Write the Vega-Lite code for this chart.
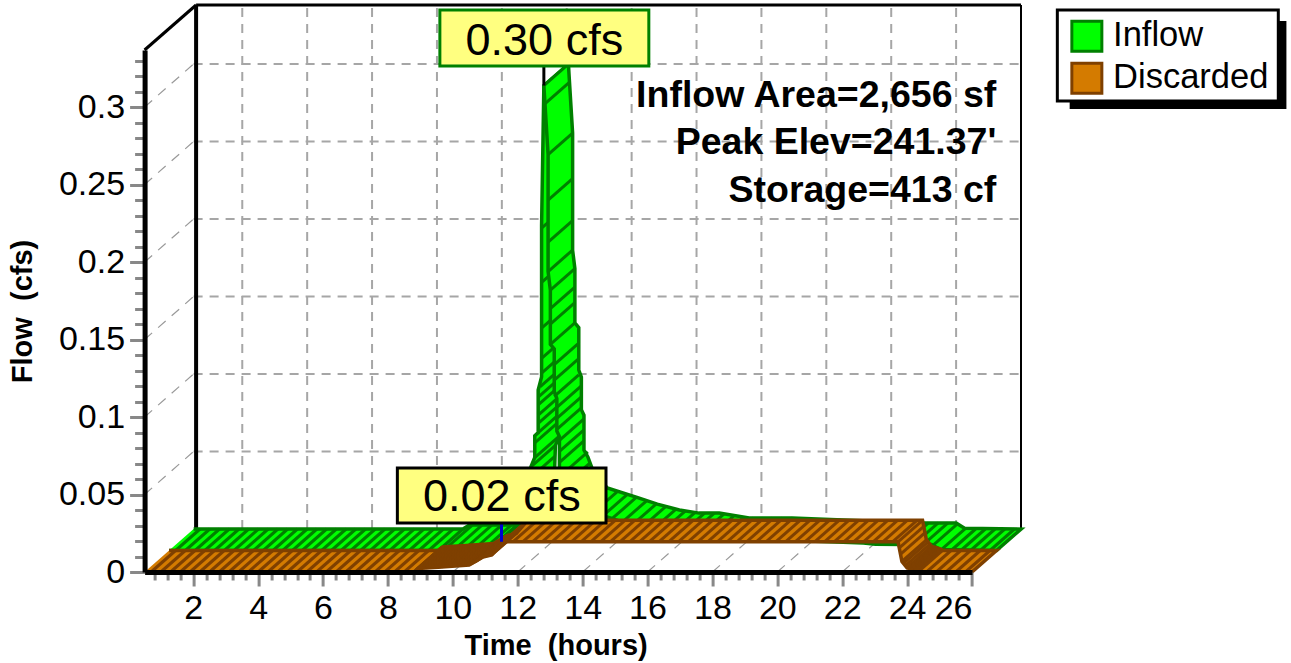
{"$schema":"https://vega.github.io/schema/vega-lite/v6.json","width":827.4,"height":522,"autosize":{"type":"none"},"padding":{"left":144.6,"top":50,"right":319,"bottom":91},"background":"white","config":{"view":{"stroke":null},"font":"Liberation Sans"},
"datasets":{
"timeGrid":[{"time":2},{"time":4},{"time":6},{"time":8},{"time":10},{"time":12},{"time":14},{"time":16},{"time":18},{"time":20},{"time":22},{"time":24},{"time":26}],
"flowGrid":[{"flow":0.05},{"flow":0.1},{"flow":0.15},{"flow":0.2},{"flow":0.25},{"flow":0.3}],
"outline":[
{"piece":"i1","series":"Inflow","seq":1,"time":1.255,"flow":0.0139},{"piece":"i1","series":"Inflow","seq":2,"time":9.555,"flow":0.0139},{"piece":"i1","series":"Inflow","seq":3,"time":9.755,"flow":0.0165},{"piece":"i1","series":"Inflow","seq":4,"time":11.095,"flow":0.0165},{"piece":"i1","series":"Inflow","seq":5,"time":11.455,"flow":0.0199},{"piece":"i1","series":"Inflow","seq":6,"time":11.755,"flow":0.0259},{"piece":"i1","series":"Inflow","seq":7,"time":12.205,"flow":0.0339},
{"piece":"i1","series":"Inflow","seq":8,"time":12.961,"flow":0.0477},{"piece":"i1","series":"Inflow","seq":9,"time":12.511,"flow":0.0397},{"piece":"i1","series":"Inflow","seq":10,"time":12.211,"flow":0.0337},{"piece":"i1","series":"Inflow","seq":11,"time":11.851,"flow":0.0303},{"piece":"i1","series":"Inflow","seq":12,"time":10.511,"flow":0.0303},{"piece":"i1","series":"Inflow","seq":13,"time":10.311,"flow":0.0277},{"piece":"i1","series":"Inflow","seq":14,"time":2.011,"flow":0.0277},
{"piece":"i2","series":"Inflow","seq":1,"time":12.205,"flow":0.0339},{"piece":"i2","series":"Inflow","seq":2,"time":12.375,"flow":0.0489},{"piece":"i2","series":"Inflow","seq":3,"time":12.405,"flow":0.0679},{"piece":"i2","series":"Inflow","seq":4,"time":12.525,"flow":0.0739},{"piece":"i2","series":"Inflow","seq":5,"time":12.525,"flow":0.0879},{"piece":"i2","series":"Inflow","seq":6,"time":12.63,"flow":0.0899},{"piece":"i2","series":"Inflow","seq":7,"time":12.63,"flow":0.1174},{"piece":"i2","series":"Inflow","seq":8,"time":12.735,"flow":0.1259},{"piece":"i2","series":"Inflow","seq":9,"time":12.735,"flow":0.2239},{"piece":"i2","series":"Inflow","seq":10,"time":12.805,"flow":0.3139},
{"piece":"i2","series":"Inflow","seq":11,"time":13.561,"flow":0.3277},{"piece":"i2","series":"Inflow","seq":12,"time":13.491,"flow":0.2377},{"piece":"i2","series":"Inflow","seq":13,"time":13.491,"flow":0.1397},{"piece":"i2","series":"Inflow","seq":14,"time":13.386,"flow":0.1312},{"piece":"i2","series":"Inflow","seq":15,"time":13.386,"flow":0.1037},{"piece":"i2","series":"Inflow","seq":16,"time":13.281,"flow":0.1017},{"piece":"i2","series":"Inflow","seq":17,"time":13.281,"flow":0.0877},{"piece":"i2","series":"Inflow","seq":18,"time":13.161,"flow":0.0817},{"piece":"i2","series":"Inflow","seq":19,"time":13.131,"flow":0.0627},{"piece":"i2","series":"Inflow","seq":20,"time":12.961,"flow":0.0477},
{"piece":"i3","series":"Inflow","seq":1,"time":12.805,"flow":0.3139},{"piece":"i3","series":"Inflow","seq":2,"time":12.935,"flow":0.2694},{"piece":"i3","series":"Inflow","seq":3,"time":12.935,"flow":0.1939},{"piece":"i3","series":"Inflow","seq":4,"time":13.005,"flow":0.1819},{"piece":"i3","series":"Inflow","seq":5,"time":13.005,"flow":0.1469},{"piece":"i3","series":"Inflow","seq":6,"time":13.125,"flow":0.1439},{"piece":"i3","series":"Inflow","seq":7,"time":13.125,"flow":0.1165},{"piece":"i3","series":"Inflow","seq":8,"time":13.205,"flow":0.1119},{"piece":"i3","series":"Inflow","seq":9,"time":13.205,"flow":0.0909},{"piece":"i3","series":"Inflow","seq":10,"time":13.285,"flow":0.0874},{"piece":"i3","series":"Inflow","seq":11,"time":13.285,"flow":0.0649},{"piece":"i3","series":"Inflow","seq":12,"time":13.405,"flow":0.0604},{"piece":"i3","series":"Inflow","seq":13,"time":13.555,"flow":0.0519},{"piece":"i3","series":"Inflow","seq":14,"time":14.005,"flow":0.0404},{"piece":"i3","series":"Inflow","seq":15,"time":14.895,"flow":0.0345},{"piece":"i3","series":"Inflow","seq":16,"time":15.545,"flow":0.03},{"piece":"i3","series":"Inflow","seq":17,"time":16.225,"flow":0.0262},{"piece":"i3","series":"Inflow","seq":18,"time":16.835,"flow":0.0242},{"piece":"i3","series":"Inflow","seq":19,"time":17.455,"flow":0.0242},{"piece":"i3","series":"Inflow","seq":20,"time":18.375,"flow":0.021},{"piece":"i3","series":"Inflow","seq":21,"time":19.705,"flow":0.021},{"piece":"i3","series":"Inflow","seq":22,"time":22.655,"flow":0.0187},{"piece":"i3","series":"Inflow","seq":23,"time":23.025,"flow":0.0179},{"piece":"i3","series":"Inflow","seq":24,"time":23.855,"flow":0.0178},{"piece":"i3","series":"Inflow","seq":25,"time":24.755,"flow":0.0178},{"piece":"i3","series":"Inflow","seq":26,"time":25.015,"flow":0.0145},{"piece":"i3","series":"Inflow","seq":27,"time":26.755,"flow":0.0139},
{"piece":"i3","series":"Inflow","seq":28,"time":27.511,"flow":0.0277},{"piece":"i3","series":"Inflow","seq":29,"time":25.771,"flow":0.0283},{"piece":"i3","series":"Inflow","seq":30,"time":25.511,"flow":0.0316},{"piece":"i3","series":"Inflow","seq":31,"time":24.611,"flow":0.0316},{"piece":"i3","series":"Inflow","seq":32,"time":23.781,"flow":0.0317},{"piece":"i3","series":"Inflow","seq":33,"time":23.411,"flow":0.0325},{"piece":"i3","series":"Inflow","seq":34,"time":20.461,"flow":0.0348},{"piece":"i3","series":"Inflow","seq":35,"time":19.131,"flow":0.0348},{"piece":"i3","series":"Inflow","seq":36,"time":18.211,"flow":0.038},{"piece":"i3","series":"Inflow","seq":37,"time":17.591,"flow":0.038},{"piece":"i3","series":"Inflow","seq":38,"time":16.981,"flow":0.04},{"piece":"i3","series":"Inflow","seq":39,"time":16.301,"flow":0.0438},{"piece":"i3","series":"Inflow","seq":40,"time":15.651,"flow":0.0483},{"piece":"i3","series":"Inflow","seq":41,"time":14.761,"flow":0.0542},{"piece":"i3","series":"Inflow","seq":42,"time":14.311,"flow":0.0657},{"piece":"i3","series":"Inflow","seq":43,"time":14.161,"flow":0.0742},{"piece":"i3","series":"Inflow","seq":44,"time":14.041,"flow":0.0787},{"piece":"i3","series":"Inflow","seq":45,"time":14.041,"flow":0.1012},{"piece":"i3","series":"Inflow","seq":46,"time":13.961,"flow":0.1047},{"piece":"i3","series":"Inflow","seq":47,"time":13.961,"flow":0.1257},{"piece":"i3","series":"Inflow","seq":48,"time":13.881,"flow":0.1303},{"piece":"i3","series":"Inflow","seq":49,"time":13.881,"flow":0.1577},{"piece":"i3","series":"Inflow","seq":50,"time":13.761,"flow":0.1607},{"piece":"i3","series":"Inflow","seq":51,"time":13.761,"flow":0.1957},{"piece":"i3","series":"Inflow","seq":52,"time":13.691,"flow":0.2077},{"piece":"i3","series":"Inflow","seq":53,"time":13.691,"flow":0.2832},{"piece":"i3","series":"Inflow","seq":54,"time":13.561,"flow":0.3277},
{"piece":"d","series":"Discarded","seq":1,"time":0.5,"flow":0},{"piece":"d","series":"Discarded","seq":2,"time":8.8,"flow":0},{"piece":"d","series":"Discarded","seq":3,"time":8.93,"flow":0.0023},{"piece":"d","series":"Discarded","seq":4,"time":9.55,"flow":0.003},{"piece":"d","series":"Discarded","seq":5,"time":10.5,"flow":0.0045},{"piece":"d","series":"Discarded","seq":6,"time":10.93,"flow":0.0097},{"piece":"d","series":"Discarded","seq":7,"time":11.2,"flow":0.011},{"piece":"d","series":"Discarded","seq":8,"time":11.55,"flow":0.0195},{"piece":"d","series":"Discarded","seq":9,"time":23.72,"flow":0.0195},{"piece":"d","series":"Discarded","seq":10,"time":23.84,"flow":0.0068},{"piece":"d","series":"Discarded","seq":11,"time":24.0,"flow":0.0026},{"piece":"d","series":"Discarded","seq":12,"time":24.25,"flow":0.0012},{"piece":"d","series":"Discarded","seq":13,"time":24.35,"flow":0},{"piece":"d","series":"Discarded","seq":14,"time":26,"flow":0},
{"piece":"d","series":"Discarded","seq":15,"time":26.755,"flow":0.0139},{"piece":"d","series":"Discarded","seq":16,"time":25.105,"flow":0.0139},{"piece":"d","series":"Discarded","seq":17,"time":25.005,"flow":0.0151},{"piece":"d","series":"Discarded","seq":18,"time":24.755,"flow":0.0165},{"piece":"d","series":"Discarded","seq":19,"time":24.595,"flow":0.0207},{"piece":"d","series":"Discarded","seq":20,"time":24.475,"flow":0.0334},{"piece":"d","series":"Discarded","seq":21,"time":12.305,"flow":0.0334},{"piece":"d","series":"Discarded","seq":22,"time":11.955,"flow":0.0249},{"piece":"d","series":"Discarded","seq":23,"time":11.685,"flow":0.0236},{"piece":"d","series":"Discarded","seq":24,"time":11.255,"flow":0.0184},{"piece":"d","series":"Discarded","seq":25,"time":10.305,"flow":0.0169},{"piece":"d","series":"Discarded","seq":26,"time":9.685,"flow":0.0162},{"piece":"d","series":"Discarded","seq":27,"time":9.555,"flow":0.0139},{"piece":"d","series":"Discarded","seq":28,"time":1.255,"flow":0.0139}
],
"inflow":[{"time":0.7,"flow":0},{"time":1.0,"flow":0},{"time":1.3,"flow":0},{"time":1.6,"flow":0},{"time":1.9,"flow":0},{"time":2.2,"flow":0},{"time":2.5,"flow":0},{"time":2.8,"flow":0},{"time":3.1,"flow":0},{"time":3.4,"flow":0},{"time":3.7,"flow":0},{"time":4.0,"flow":0},{"time":4.3,"flow":0},{"time":4.6,"flow":0},{"time":4.9,"flow":0},{"time":5.2,"flow":0},{"time":5.5,"flow":0},{"time":5.8,"flow":0},{"time":6.1,"flow":0},{"time":6.4,"flow":0},{"time":6.7,"flow":0},{"time":7.0,"flow":0},{"time":7.3,"flow":0},{"time":7.6,"flow":0},{"time":7.9,"flow":0},{"time":8.2,"flow":0},{"time":8.5,"flow":0},{"time":8.8,"flow":0},{"time":9.1,"flow":0.0026},{"time":9.4,"flow":0.0026},{"time":9.7,"flow":0.0026},{"time":10.0,"flow":0.0026},{"time":10.3,"flow":0.0026},{"time":10.6,"flow":0.005},{"time":10.9,"flow":0.01},{"time":11.2,"flow":0.015},{"time":11.45,"flow":0.02},{"time":11.55,"flow":0.028},{"time":11.62,"flow":0.035},{"time":11.64,"flow":0.047},{"time":11.65,"flow":0.054},{"time":11.77,"flow":0.06},{"time":11.77,"flow":0.0695},{"time":11.875,"flow":0.076},{"time":11.875,"flow":0.082},{"time":11.875,"flow":0.0874},{"time":11.875,"flow":0.094},{"time":11.875,"flow":0.099},{"time":11.93,"flow":0.1055},{"time":11.98,"flow":0.1145},{"time":11.98,"flow":0.124},{"time":11.98,"flow":0.1435},{"time":11.98,"flow":0.173},{"time":11.98,"flow":0.208},{"time":12.05,"flow":0.3},{"time":12.07,"flow":0.288},{"time":12.18,"flow":0.2555},{"time":12.18,"flow":0.226},{"time":12.18,"flow":0.199},{"time":12.18,"flow":0.18},{"time":12.25,"flow":0.168},{"time":12.25,"flow":0.156},{"time":12.25,"flow":0.146},{"time":12.25,"flow":0.133},{"time":12.37,"flow":0.12},{"time":12.37,"flow":0.11},{"time":12.37,"flow":0.0994},{"time":12.45,"flow":0.0923},{"time":12.45,"flow":0.0852},{"time":12.45,"flow":0.0781},{"time":12.53,"flow":0.071},{"time":12.53,"flow":0.0639},{"time":12.53,"flow":0.0568},{"time":12.65,"flow":0.0497},{"time":12.72,"flow":0.0426},{"time":12.8,"flow":0.038},{"time":13.0,"flow":0.032},{"time":13.25,"flow":0.0265},{"time":13.55,"flow":0.024},{"time":13.85,"flow":0.022},{"time":14.15,"flow":0.0205},{"time":14.45,"flow":0.018},{"time":14.75,"flow":0.016},{"time":15.05,"flow":0.0145},{"time":15.35,"flow":0.0125},{"time":15.65,"flow":0.0115},{"time":15.95,"flow":0.0105},{"time":16.25,"flow":0.0103},{"time":16.55,"flow":0.0103},{"time":16.85,"flow":0.0098},{"time":17.15,"flow":0.0084},{"time":17.45,"flow":0.0075},{"time":17.75,"flow":0.0071},{"time":18.05,"flow":0.0071},{"time":18.35,"flow":0.0071},{"time":18.65,"flow":0.0071},{"time":18.95,"flow":0.0071},{"time":19.25,"flow":0.0068},{"time":19.55,"flow":0.0066},{"time":19.85,"flow":0.0064},{"time":20.15,"flow":0.0061},{"time":20.45,"flow":0.006},{"time":20.75,"flow":0.0057},{"time":21.05,"flow":0.0054},{"time":21.35,"flow":0.0051},{"time":21.65,"flow":0.0049},{"time":21.95,"flow":0.0046},{"time":22.25,"flow":0.004},{"time":22.55,"flow":0.004},{"time":22.85,"flow":0.0039},{"time":23.15,"flow":0.0039},{"time":23.45,"flow":0.0039},{"time":23.75,"flow":0.0039},{"time":24.05,"flow":0.0035},{"time":24.3,"flow":0.0006},{"time":24.6,"flow":0},{"time":24.9,"flow":0},{"time":25.2,"flow":0},{"time":25.5,"flow":0},{"time":25.8,"flow":0}],
"discarded":[{"time":0.7,"flow":0},{"time":1.0,"flow":0},{"time":1.3,"flow":0},{"time":1.6,"flow":0},{"time":1.9,"flow":0},{"time":2.2,"flow":0},{"time":2.5,"flow":0},{"time":2.8,"flow":0},{"time":3.1,"flow":0},{"time":3.4,"flow":0},{"time":3.7,"flow":0},{"time":4.0,"flow":0},{"time":4.3,"flow":0},{"time":4.6,"flow":0},{"time":4.9,"flow":0},{"time":5.2,"flow":0},{"time":5.5,"flow":0},{"time":5.8,"flow":0},{"time":6.1,"flow":0},{"time":6.4,"flow":0},{"time":6.7,"flow":0},{"time":7.0,"flow":0},{"time":7.3,"flow":0},{"time":7.6,"flow":0},{"time":7.9,"flow":0},{"time":8.2,"flow":0},{"time":8.5,"flow":0},{"time":8.8,"flow":0},{"time":8.85,"flow":0.001},{"time":8.9,"flow":0.002},{"time":8.95,"flow":0.0023},{"time":9.0,"flow":0.0024},{"time":9.05,"flow":0.0024},{"time":9.1,"flow":0.0025},{"time":9.15,"flow":0.0025},{"time":9.2,"flow":0.0025},{"time":9.25,"flow":0.0026},{"time":9.3,"flow":0.0026},{"time":9.35,"flow":0.0027},{"time":9.4,"flow":0.0028},{"time":9.45,"flow":0.0029},{"time":9.5,"flow":0.003},{"time":9.55,"flow":0.003},{"time":9.6,"flow":0.0031},{"time":9.65,"flow":0.0032},{"time":9.7,"flow":0.0033},{"time":9.75,"flow":0.0034},{"time":9.8,"flow":0.0035},{"time":9.85,"flow":0.0036},{"time":9.9,"flow":0.0036},{"time":9.95,"flow":0.0037},{"time":10.0,"flow":0.0037},{"time":10.05,"flow":0.0038},{"time":10.1,"flow":0.0039},{"time":10.15,"flow":0.004},{"time":10.2,"flow":0.004},{"time":10.25,"flow":0.0041},{"time":10.3,"flow":0.0042},{"time":10.35,"flow":0.0043},{"time":10.4,"flow":0.0044},{"time":10.45,"flow":0.0045},{"time":10.5,"flow":0.0045},{"time":10.55,"flow":0.005},{"time":10.6,"flow":0.0055},{"time":10.65,"flow":0.006},{"time":10.7,"flow":0.0065},{"time":10.75,"flow":0.0073},{"time":10.8,"flow":0.008},{"time":10.85,"flow":0.0087},{"time":10.9,"flow":0.0094},{"time":10.95,"flow":0.0098},{"time":11.0,"flow":0.01},{"time":11.05,"flow":0.0103},{"time":11.1,"flow":0.0105},{"time":11.15,"flow":0.0108},{"time":11.2,"flow":0.011},{"time":11.25,"flow":0.0122},{"time":11.3,"flow":0.0135},{"time":11.35,"flow":0.0147},{"time":11.4,"flow":0.016},{"time":11.45,"flow":0.0172},{"time":11.5,"flow":0.0185},{"time":11.55,"flow":0.0195},{"time":11.85,"flow":0.0195},{"time":12.15,"flow":0.0195},{"time":12.45,"flow":0.0195},{"time":12.75,"flow":0.0195},{"time":13.05,"flow":0.0195},{"time":13.35,"flow":0.0195},{"time":13.65,"flow":0.0195},{"time":13.95,"flow":0.0195},{"time":14.25,"flow":0.0195},{"time":14.55,"flow":0.0195},{"time":14.85,"flow":0.0195},{"time":15.15,"flow":0.0195},{"time":15.45,"flow":0.0195},{"time":15.75,"flow":0.0195},{"time":16.05,"flow":0.0195},{"time":16.35,"flow":0.0195},{"time":16.65,"flow":0.0195},{"time":16.95,"flow":0.0195},{"time":17.25,"flow":0.0195},{"time":17.55,"flow":0.0195},{"time":17.85,"flow":0.0195},{"time":18.15,"flow":0.0195},{"time":18.45,"flow":0.0195},{"time":18.75,"flow":0.0195},{"time":19.05,"flow":0.0195},{"time":19.35,"flow":0.0195},{"time":19.65,"flow":0.0195},{"time":19.95,"flow":0.0195},{"time":20.25,"flow":0.0195},{"time":20.55,"flow":0.0195},{"time":20.85,"flow":0.0195},{"time":21.15,"flow":0.0195},{"time":21.45,"flow":0.0195},{"time":21.75,"flow":0.0195},{"time":22.05,"flow":0.0195},{"time":22.35,"flow":0.0195},{"time":22.65,"flow":0.0195},{"time":22.95,"flow":0.0195},{"time":23.25,"flow":0.0195},{"time":23.55,"flow":0.0195},{"time":23.72,"flow":0.0195},{"time":23.76,"flow":0.0155},{"time":23.8,"flow":0.0115},{"time":23.84,"flow":0.0068},{"time":23.89,"flow":0.0055},{"time":23.94,"flow":0.004},{"time":23.99,"flow":0.0027},{"time":24.04,"flow":0.0024},{"time":24.09,"flow":0.0021},{"time":24.14,"flow":0.0018},{"time":24.19,"flow":0.0015},{"time":24.24,"flow":0.0012},{"time":24.29,"flow":0.0007},{"time":24.34,"flow":0.0001},{"time":24.6,"flow":0},{"time":24.9,"flow":0},{"time":25.2,"flow":0},{"time":25.5,"flow":0},{"time":25.8,"flow":0}],
"callouts":[{"series":"Inflow","label":"0.30 cfs","t1":9.6,"t2":16.04,"q1":0.3626,"q2":0.3265,"tc":12.82,"qc":0.3335},{"series":"Discarded","label":"0.02 cfs","t1":8.29,"t2":14.72,"q1":0.0671,"q2":0.0316,"tc":11.51,"qc":0.0394}],
"notes":[{"note":"Inflow Area=2,656 sf","time":26.75,"flow":0.3},{"note":"Peak Elev=241.37'","time":26.75,"flow":0.2697},{"note":"Storage=413 cf","time":26.75,"flow":0.2387}],
"legendShadow":[{"t1":29.01,"t2":35.69,"q1":0.3555,"q2":0.2987}],
"legendBox":[{"t1":28.63,"t2":35.44,"q1":0.3626,"q2":0.3039}]
},
"resolve":{"axis":{"x":"independent","y":"independent"}},
"layer":[
{"data":{"name":"legendShadow"},"mark":{"type":"rect","fill":"black"},"encoding":{"x":{"field":"t1","type":"quantitative","axis":null,"scale":{"domain":[0.5,26],"nice":false,"zero":false}},"x2":{"field":"t2"},"y":{"field":"q1","type":"quantitative","axis":null,"scale":{"domain":[0,0.3368],"nice":false,"zero":false}},"y2":{"field":"q2"}}},
{"data":{"name":"legendBox"},"mark":{"type":"rect","fill":"white","stroke":"black","strokeWidth":3},"encoding":{"x":{"field":"t1","type":"quantitative","axis":null},"x2":{"field":"t2"},"y":{"field":"q1","type":"quantitative","axis":null},"y2":{"field":"q2"}}},
{"data":{"values":[{"time":2,"flow":0}]},"mark":{"type":"point","opacity":0},"encoding":{"x":{"field":"time","type":"quantitative","axis":{"orient":"bottom","values":[0.8,1.2,1.6,2.4,2.8,3.2,3.6,4.4,4.8,5.2,5.6,6.4,6.8,7.2,7.6,8.4,8.8,9.2,9.6,10.4,10.8,11.2,11.6,12.4,12.8,13.2,13.6,14.4,14.8,15.2,15.6,16.4,16.8,17.2,17.6,18.4,18.8,19.2,19.6,20.4,20.8,21.2,21.6,22.4,22.8,23.2,23.6,24.4,24.8,25.2,25.6],"grid":false,"title":null,"labels":false,"domain":false,"tickColor":"#888888","tickWidth":3,"tickSize":8}},"y":{"field":"flow","type":"quantitative","axis":{"orient":"left","values":[0.01,0.02,0.03,0.04,0.06,0.07,0.08,0.09,0.11,0.12,0.13,0.14,0.16,0.17,0.18,0.19,0.21,0.22,0.23,0.24,0.26,0.27,0.28,0.29,0.31,0.32,0.33],"grid":false,"title":null,"labels":false,"domain":false,"tickColor":"#888888","tickWidth":3,"tickSize":10}}}},
{"data":{"values":[{"time":2,"flow":0}]},"mark":{"type":"point","opacity":0},"encoding":{"x":{"field":"time","type":"quantitative","axis":{"orient":"bottom","zindex":1,"values":[2,4,6,8,10,12,14,16,18,20,22,24,26],"grid":false,"title":"Time \u00a0(hours)","titleFontSize":29,"titleFont":"Liberation Sans","titleFontWeight":"bold","titleColor":"black","titleX":411,"titleY":82,"titleAnchor":"middle","titleBaseline":"alphabetic","labelFontSize":34,"labelFont":"Liberation Sans","labelColor":"black","labelBaseline":"alphabetic","labelPadding":32,"labelAngle":0,"labelOverlap":false,"tickColor":"#888888","tickWidth":3,"tickSize":14,"domainColor":"black","domainWidth":5,"format":"d"}},"y":{"field":"flow","type":"quantitative","axis":{"orient":"left","zindex":1,"values":[0,0.05,0.1,0.15,0.2,0.25,0.3],"labelExpr":"datum.value === 0 ? '0' : format(datum.value, '.2~f')","grid":false,"title":"Flow \u00a0(cfs)","titleFontSize":29,"titleFont":"Liberation Sans","titleFontWeight":"bold","titleColor":"black","titleX":-113,"titleY":261,"titleAnchor":"middle","titleAngle":270,"titleBaseline":"alphabetic","labelFontSize":34,"labelFont":"Liberation Sans","labelColor":"black","labelPadding":5,"labelOverlap":false,"tickColor":"#888888","tickWidth":3,"tickSize":15,"domainColor":"black","domainWidth":5}}}},
{"data":{"name":"timeGrid"},"mark":{"type":"rule","color":"#a6a6a6","strokeWidth":2,"strokeDash":[9,7],"xOffset":49,"yOffset":-43,"y2Offset":-45},"encoding":{"x":{"field":"time","type":"quantitative","axis":null},"y":{"datum":0,"type":"quantitative","axis":null},"y2":{"datum":0.3368}}},
{"data":{"name":"timeGrid"},"mark":{"type":"rule","color":"#999999","strokeWidth":1.2,"strokeDash":[10,8],"x2Offset":49,"y2Offset":-43},"encoding":{"x":{"field":"time","type":"quantitative","axis":null},"x2":{"field":"time"},"y":{"datum":0,"type":"quantitative","axis":null},"y2":{"datum":0}}},
{"data":{"name":"flowGrid"},"mark":{"type":"rule","color":"#a6a6a6","strokeWidth":2,"strokeDash":[9,7],"xOffset":49,"x2Offset":49,"yOffset":-43},"encoding":{"x":{"datum":0.5,"type":"quantitative","axis":null},"x2":{"datum":26},"y":{"field":"flow","type":"quantitative","axis":null}}},
{"data":{"name":"flowGrid"},"mark":{"type":"rule","color":"#999999","strokeWidth":1.2,"strokeDash":[10,8],"x2Offset":49,"y2Offset":-43},"encoding":{"x":{"datum":0.5,"type":"quantitative","axis":null},"x2":{"datum":0.5},"y":{"field":"flow","type":"quantitative","axis":null},"y2":{"field":"flow"}}},
{"data":{"values":[{"edge":"backLeft"}]},"mark":{"type":"rule","color":"black","strokeWidth":4,"xOffset":51.5,"yOffset":-44,"y2Offset":-45},"encoding":{"x":{"datum":0.5,"type":"quantitative","axis":null},"y":{"datum":0,"type":"quantitative","axis":null},"y2":{"datum":0.3368}}},
{"data":{"values":[{"edge":"backTop"}]},"mark":{"type":"rule","color":"black","strokeWidth":3,"xOffset":51.5,"x2Offset":49,"yOffset":-45},"encoding":{"x":{"datum":0.5,"type":"quantitative","axis":null},"x2":{"datum":26},"y":{"datum":0.3368,"type":"quantitative","axis":null}}},
{"data":{"values":[{"edge":"topDiagonal"}]},"mark":{"type":"rule","color":"black","strokeWidth":3,"x2Offset":51.5,"y2Offset":-45},"encoding":{"x":{"datum":0.5,"type":"quantitative","axis":null},"x2":{"datum":0.5},"y":{"datum":0.3368,"type":"quantitative","axis":null},"y2":{"datum":0.3368}}},
{"data":{"values":[{"edge":"right"}]},"mark":{"type":"rule","color":"black","strokeWidth":2,"xOffset":49,"yOffset":-43,"y2Offset":-45},"encoding":{"x":{"datum":26,"type":"quantitative","axis":null},"y":{"datum":0,"type":"quantitative","axis":null},"y2":{"datum":0.3368}}},
{"data":{"values":[{"edge":"floorRight"}]},"mark":{"type":"rule","color":"black","strokeWidth":1.5,"x2Offset":49,"y2Offset":-43},"encoding":{"x":{"datum":26,"type":"quantitative","axis":null},"x2":{"datum":26},"y":{"datum":0,"type":"quantitative","axis":null},"y2":{"datum":0}}},
{"data":{"name":"outline"},"transform":[{"filter":"datum.piece === 'i1' || datum.piece === 'i2'"}],"mark":{"type":"line","filled":true,"strokeWidth":3.5,"strokeJoin":"miter"},"encoding":{"x":{"field":"time","type":"quantitative","axis":null},"y":{"field":"flow","type":"quantitative","axis":null},"detail":{"field":"piece"},"order":{"field":"seq","type":"quantitative"},"fill":{"field":"series","type":"nominal","scale":{"domain":["Inflow","Discarded"],"range":["#00ff00","#d47b00"]},"legend":{"orient":"none","legendX":925,"legendY":-31,"title":null,"symbolType":"square","symbolSize":900,"symbolStrokeWidth":3,"labelFontSize":34.5,"labelFont":"Liberation Sans","labelColor":"black","labelOffset":9,"padding":0,"rowPadding":-1,"zindex":2}},"stroke":{"field":"series","type":"nominal","scale":{"domain":["Inflow","Discarded"],"range":["#008000","#7f4000"]},"legend":{"orient":"none","legendX":925,"legendY":-31,"title":null,"symbolType":"square","symbolSize":900,"symbolStrokeWidth":3,"labelFontSize":34.5,"labelFont":"Liberation Sans","labelColor":"black","labelOffset":9,"padding":0,"rowPadding":-1,"zindex":2}}}},
{"data":{"name":"inflow"},"transform":[{"filter":"datum.time < 12.05"}],"mark":{"type":"rule","color":"#008000","strokeWidth":3,"xOffset":24.5,"yOffset":-21.5,"x2Offset":49,"y2Offset":-43},"encoding":{"x":{"field":"time","type":"quantitative","axis":null},"x2":{"field":"time"},"y":{"field":"flow","type":"quantitative","axis":null},"y2":{"field":"flow"}}},
{"data":{"name":"outline"},"transform":[{"filter":"datum.piece === 'i3'"}],"mark":{"type":"line","filled":true,"strokeWidth":3.5,"strokeJoin":"miter"},"encoding":{"x":{"field":"time","type":"quantitative","axis":null},"y":{"field":"flow","type":"quantitative","axis":null},"detail":{"field":"piece"},"order":{"field":"seq","type":"quantitative"},"fill":{"field":"series","type":"nominal"},"stroke":{"field":"series","type":"nominal"}}},
{"data":{"name":"inflow"},"transform":[{"filter":"datum.time >= 12.05"}],"mark":{"type":"rule","color":"#008000","strokeWidth":3,"xOffset":24.5,"yOffset":-21.5,"x2Offset":49,"y2Offset":-43},"encoding":{"x":{"field":"time","type":"quantitative","axis":null},"x2":{"field":"time"},"y":{"field":"flow","type":"quantitative","axis":null},"y2":{"field":"flow"}}},
{"data":{"name":"outline"},"transform":[{"filter":"datum.piece === 'd'"}],"mark":{"type":"line","filled":true,"strokeWidth":3.5,"strokeJoin":"miter"},"encoding":{"x":{"field":"time","type":"quantitative","axis":null},"y":{"field":"flow","type":"quantitative","axis":null},"detail":{"field":"piece"},"order":{"field":"seq","type":"quantitative"},"fill":{"field":"series","type":"nominal"},"stroke":{"field":"series","type":"nominal"}}},
{"data":{"name":"discarded"},"mark":{"type":"rule","color":"#7f4000","strokeWidth":3,"x2Offset":24.5,"y2Offset":-21.5},"encoding":{"x":{"field":"time","type":"quantitative","axis":null},"x2":{"field":"time"},"y":{"field":"flow","type":"quantitative","axis":null},"y2":{"field":"flow"}}},
{"data":{"values":[{"time":11.5,"flow":0.0195,"top":0.0316}]},"mark":{"type":"rule","color":"#0000d0","strokeWidth":3},"encoding":{"x":{"field":"time","type":"quantitative","axis":null},"y":{"field":"flow","type":"quantitative","axis":null},"y2":{"field":"top"}}},
{"data":{"values":[{"time":12.05,"flow":0.3,"top":0.3265}]},"mark":{"type":"rule","color":"black","strokeWidth":3,"xOffset":24.5,"yOffset":-21.5},"encoding":{"x":{"field":"time","type":"quantitative","axis":null},"y":{"field":"flow","type":"quantitative","axis":null},"y2":{"field":"top"}}},
{"data":{"name":"callouts"},"transform":[{"filter":"datum.series === 'Inflow'"}],"mark":{"type":"rect","fill":"#ffff80","stroke":"#008000","strokeWidth":3},"encoding":{"x":{"field":"t1","type":"quantitative","axis":null},"x2":{"field":"t2"},"y":{"field":"q1","type":"quantitative","axis":null},"y2":{"field":"q2"}}},
{"data":{"name":"callouts"},"transform":[{"filter":"datum.series === 'Discarded'"}],"mark":{"type":"rect","fill":"#ffff80","stroke":"black","strokeWidth":3},"encoding":{"x":{"field":"t1","type":"quantitative","axis":null},"x2":{"field":"t2"},"y":{"field":"q1","type":"quantitative","axis":null},"y2":{"field":"q2"}}},
{"data":{"name":"callouts"},"mark":{"type":"text","font":"Liberation Sans","fontSize":45,"color":"black","align":"center","baseline":"alphabetic"},"encoding":{"x":{"field":"tc","type":"quantitative","axis":null},"y":{"field":"qc","type":"quantitative","axis":null},"text":{"field":"label"}}},
{"data":{"name":"notes"},"mark":{"type":"text","font":"Liberation Sans","fontSize":37.5,"fontWeight":"bold","color":"black","align":"right","baseline":"alphabetic"},"encoding":{"x":{"field":"time","type":"quantitative","axis":null},"y":{"field":"flow","type":"quantitative","axis":null},"text":{"field":"note"}}}
]}
